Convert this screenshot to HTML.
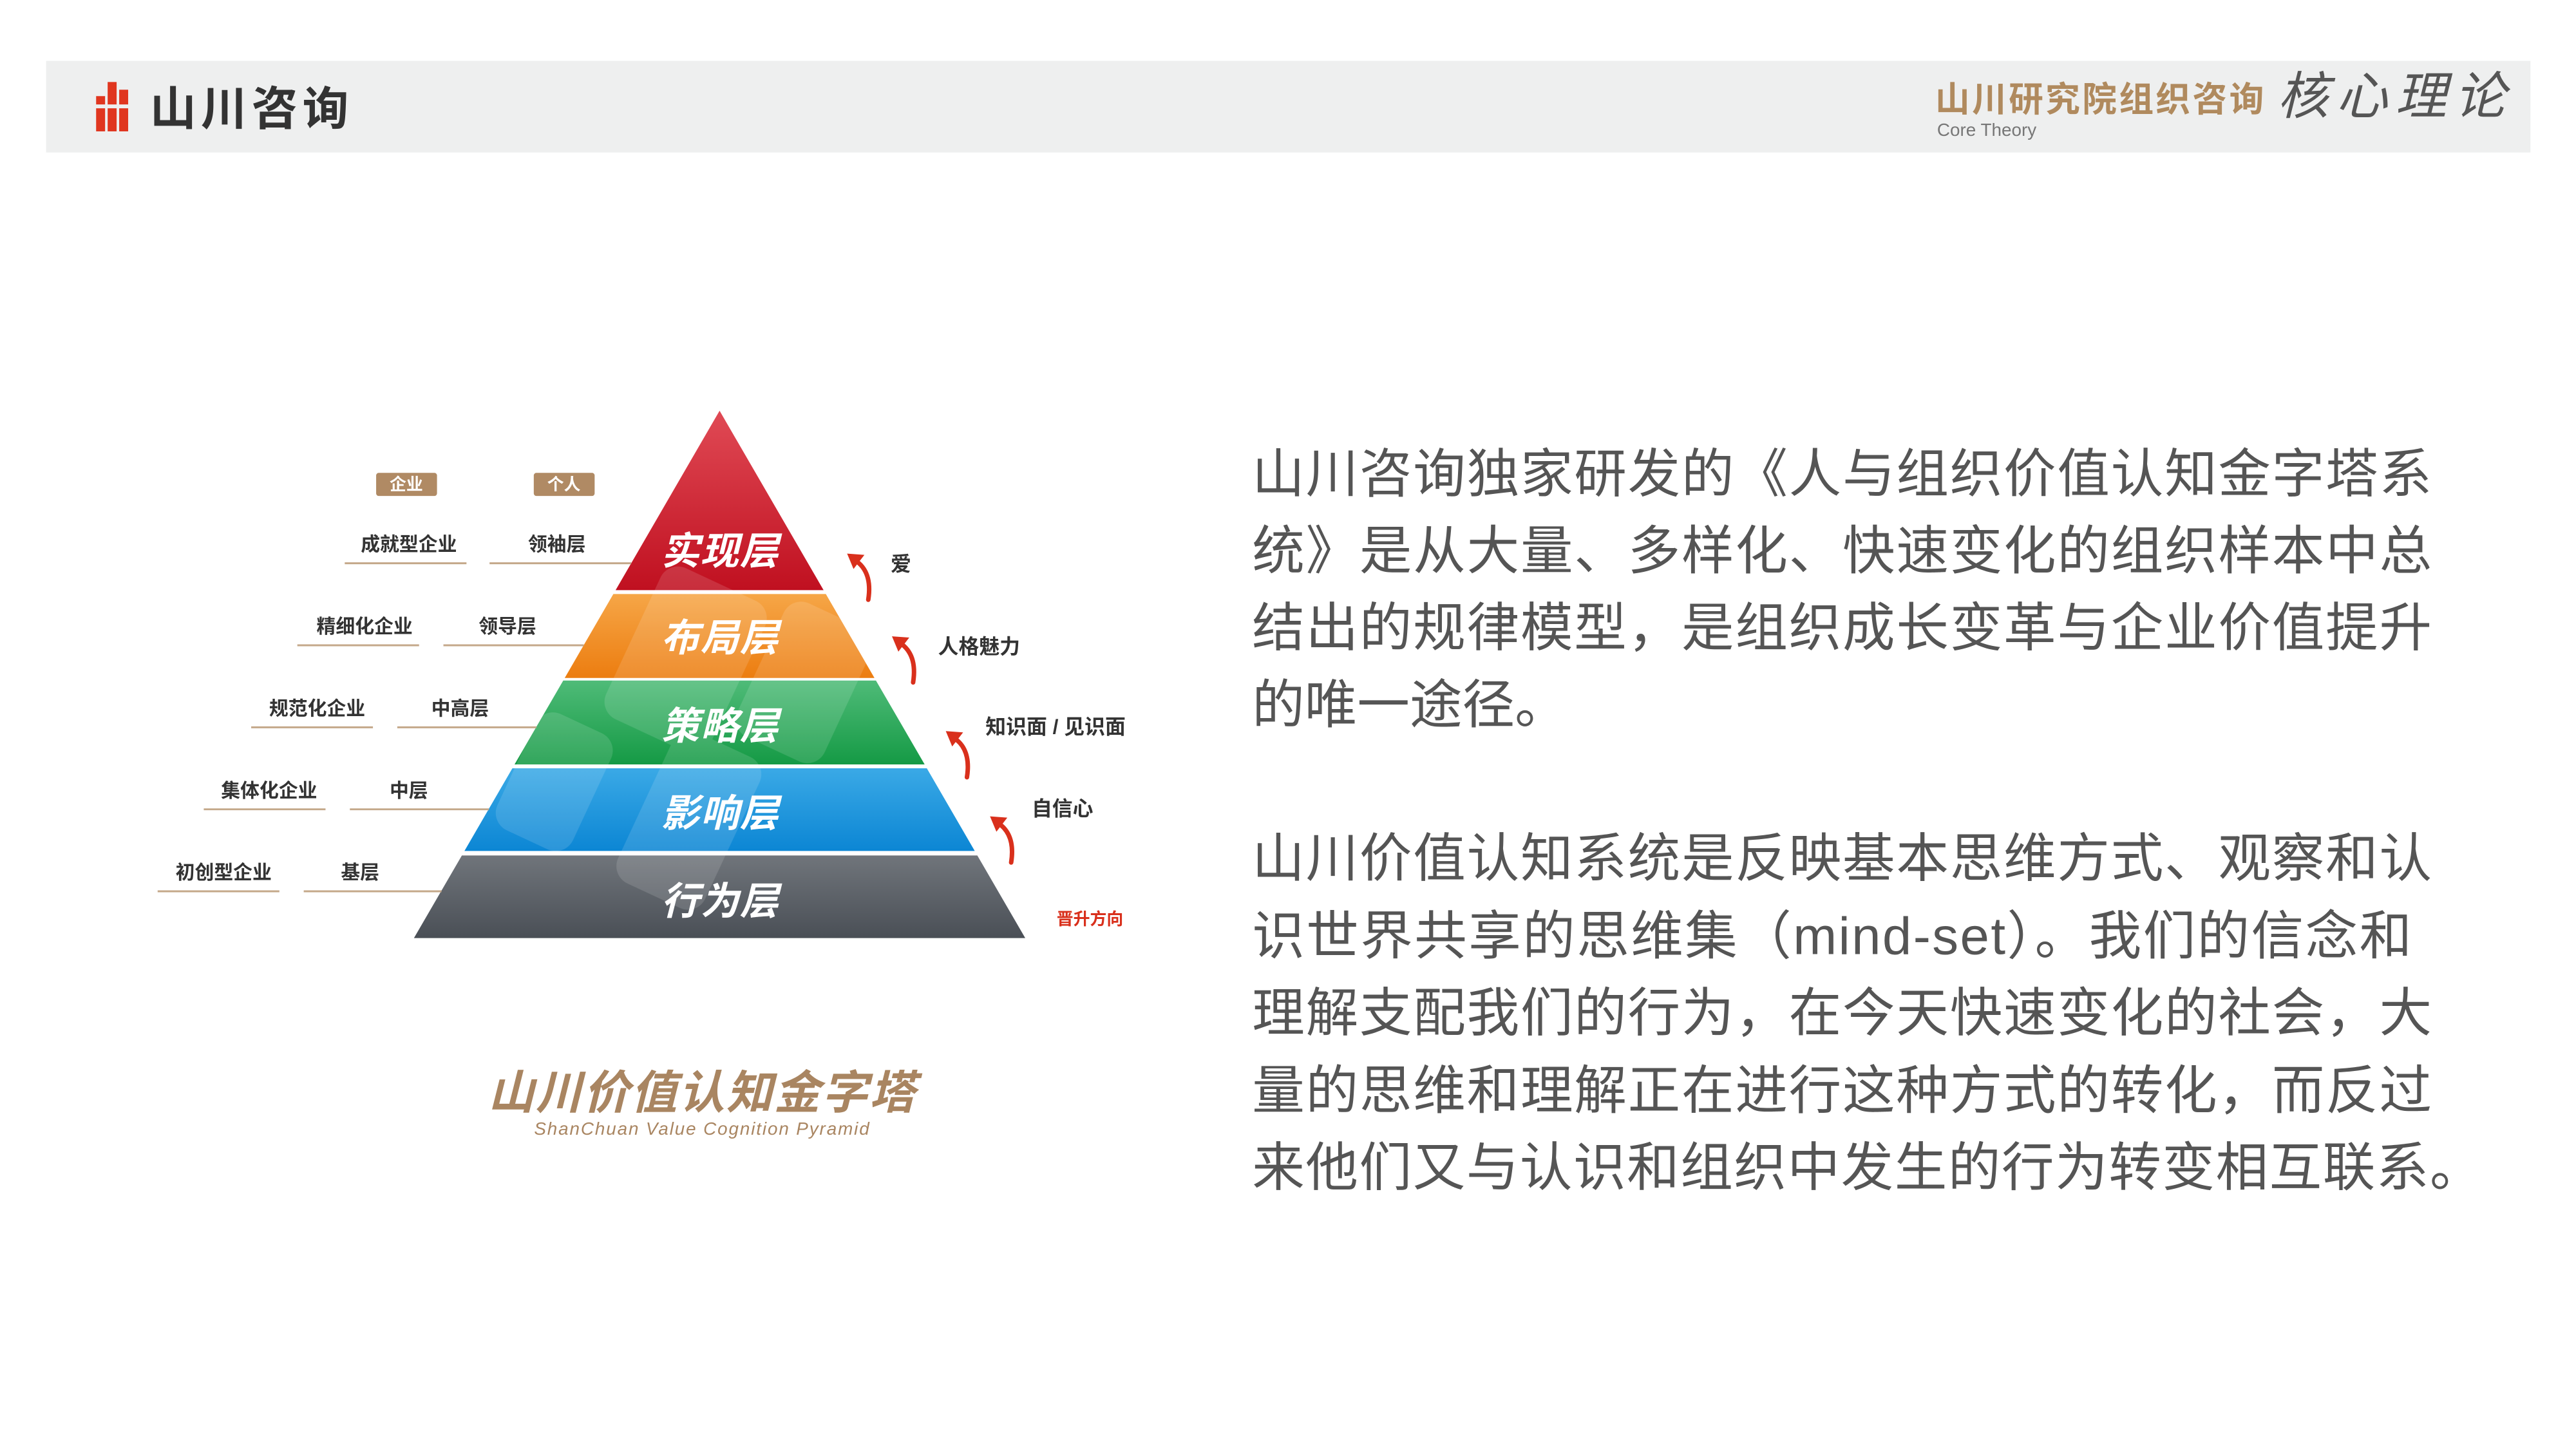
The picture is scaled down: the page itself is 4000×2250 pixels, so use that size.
<!DOCTYPE html>
<html><head><meta charset="utf-8"><style>
html,body{margin:0;padding:0;background:#fff;}
svg{display:block;}
text{font-family:"Liberation Sans","Noto Sans CJK SC",sans-serif;}
</style></head><body>
<svg width="4000" height="2250" viewBox="0 0 4000 2250" xmlns="http://www.w3.org/2000/svg">
<defs>
<linearGradient id="gr" x1="0" y1="0" x2="0" y2="1"><stop offset="0" stop-color="#e04a55"/><stop offset="1" stop-color="#c01020"/></linearGradient>
<linearGradient id="go" x1="0" y1="0" x2="0" y2="1"><stop offset="0" stop-color="#f6a647"/><stop offset="1" stop-color="#ec7d10"/></linearGradient>
<linearGradient id="gg" x1="0" y1="0" x2="0" y2="1"><stop offset="0" stop-color="#4fbb78"/><stop offset="1" stop-color="#159a45"/></linearGradient>
<linearGradient id="gb" x1="0" y1="0" x2="0" y2="1"><stop offset="0" stop-color="#3aa9e6"/><stop offset="1" stop-color="#0c86d4"/></linearGradient>
<linearGradient id="gk" x1="0" y1="0" x2="0" y2="1"><stop offset="0" stop-color="#70757b"/><stop offset="1" stop-color="#4a4f56"/></linearGradient>
<clipPath id="pc"><polygon points="1123,641 1600,1464 646,1464"/></clipPath>
</defs>
<g transform="scale(0.995)">
<!-- header -->
<rect x="72" y="95" width="3877" height="143" fill="#eeefef"/>
<g fill="#e0361f">
<rect x="150" y="150" width="14" height="55"/><rect x="168" y="128" width="14" height="77"/><rect x="186" y="140" width="14" height="65"/>
</g>
<rect x="148" y="163" width="56" height="6" fill="#eeefef"/>
<text x="234" y="195" font-size="72" font-weight="bold" fill="#333" textLength="310">山川咨询</text>
<text x="3020" y="174" font-size="54" font-weight="bold" fill="#b08a5e" textLength="513">山川研究院组织咨询</text>
<text x="3554" y="178" font-size="80" font-style="italic" fill="#555" textLength="356" font-family="'Noto Serif CJK SC',serif">核心理论</text>
<text x="3023" y="212" font-size="28" fill="#777" font-family="'Liberation Serif',serif">Core Theory</text>
<!-- pyramid -->
<polygon points="1123,641 1285.3,921 960.7,921" fill="url(#gr)"/>
<polygon points="957.2,927 1288.8,927 1364.7,1058 881.3,1058" fill="url(#go)"/>
<polygon points="879,1062 1367,1062 1443,1193 803,1193" fill="url(#gg)"/>
<polygon points="799.6,1199 1446.4,1199 1521.2,1328 724.8,1328" fill="url(#gb)"/>
<polygon points="720.8,1335 1525.2,1335 1600,1464 646,1464" fill="url(#gk)"/>
<g clip-path="url(#pc)" fill="#fff" opacity="0.13">
<rect x="980" y="900" width="180" height="260" rx="30" transform="rotate(25 1070 1030)"/>
<rect x="1180" y="950" width="150" height="230" rx="30" transform="rotate(25 1255 1065)"/>
<rect x="1000" y="1150" width="150" height="260" rx="30" transform="rotate(25 1075 1280)"/>
<rect x="800" y="1120" width="130" height="200" rx="30" transform="rotate(25 865 1220)"/>
</g>
<g font-size="60" font-weight="bold" font-style="italic" fill="#fff" text-anchor="middle">
<text x="1123" y="881" textLength="183">实现层</text>
<text x="1123" y="1016" textLength="183">布局层</text>
<text x="1123" y="1154" textLength="183">策略层</text>
<text x="1123" y="1290" textLength="183">影响层</text>
<text x="1123" y="1427" textLength="183">行为层</text>
</g>
<!-- badges -->
<rect x="587" y="738" width="95" height="36" rx="4" fill="#b08a64"/>
<rect x="833" y="738" width="95" height="36" rx="4" fill="#b08a64"/>
<g font-size="26" font-weight="bold" fill="#fff" text-anchor="middle">
<text x="634" y="765">企业</text><text x="880" y="765">个人</text>
</g>
<!-- left labels -->
<g stroke="#c4a88a" stroke-width="3">
<line x1="538" y1="879" x2="728" y2="879"/><line x1="764" y1="879" x2="985" y2="879"/>
<line x1="464" y1="1007" x2="654" y2="1007"/><line x1="692" y1="1007" x2="911" y2="1007"/>
<line x1="392" y1="1135" x2="582" y2="1135"/><line x1="620" y1="1135" x2="837" y2="1135"/>
<line x1="318" y1="1263" x2="508" y2="1263"/><line x1="546" y1="1263" x2="763" y2="1263"/>
<line x1="246" y1="1391" x2="436" y2="1391"/><line x1="474" y1="1391" x2="689" y2="1391"/>
</g>
<g font-size="30" font-weight="bold" fill="#333" text-anchor="middle">
<text x="638" y="860">成就型企业</text><text x="869" y="860">领袖层</text>
<text x="569" y="988">精细化企业</text><text x="792" y="988">领导层</text>
<text x="495" y="1116">规范化企业</text><text x="718" y="1116">中高层</text>
<text x="420" y="1244">集体化企业</text><text x="638" y="1244">中层</text>
<text x="349" y="1372">初创型企业</text><text x="562" y="1372">基层</text>
</g>
<!-- arrows -->
<g fill="none" stroke="#d9301c" stroke-width="7" stroke-linecap="round">
<path d="M1355,936 Q1362,892 1334,874"/>
<path d="M1425,1065 Q1432,1021 1404,1003"/>
<path d="M1509,1213 Q1516,1169 1488,1151"/>
<path d="M1578,1346 Q1585,1302 1557,1284"/>
</g>
<g fill="#d9301c">
<polygon points="1322,864 1349,866 1332,888"/>
<polygon points="1392,993 1419,995 1402,1017"/>
<polygon points="1476,1141 1503,1143 1486,1165"/>
<polygon points="1545,1274 1572,1276 1555,1298"/>
</g>
<g font-size="32" font-weight="bold" fill="#333">
<text x="1390" y="891">爱</text>
<text x="1464" y="1020">人格魅力</text>
<text x="1538" y="1145">知识面 / 见识面</text>
<text x="1610" y="1273">自信心</text>
</g>
<text x="1649" y="1443" font-size="26" font-weight="bold" fill="#d9301c">晋升方向</text>
<!-- title -->
<text x="1095" y="1730" font-size="72" font-weight="bold" font-style="italic" fill="#a98561" text-anchor="middle" textLength="667">山川价值认知金字塔</text>
<text x="1095" y="1771" font-size="28" font-style="italic" fill="#a98561" text-anchor="middle" textLength="523">ShanChuan Value Cognition Pyramid</text>
<!-- right paragraphs -->
<g font-size="82" fill="#555">
<text x="1954" y="768" textLength="1841">山川咨询独家研发的《人与组织价值认知金字塔系</text>
<text x="1954" y="888" textLength="1841">统》是从大量、多样化、快速变化的组织样本中总</text>
<text x="1954" y="1008" textLength="1841">结出的规律模型，是组织成长变革与企业价值提升</text>
<text x="1954" y="1128">的唯一途径。</text>
<text x="1954" y="1368" textLength="1841">山川价值认知系统是反映基本思维方式、观察和认</text>
<text x="1954" y="1489" textLength="1810">识世界共享的思维集（mind-set）。我们的信念和</text>
<text x="1954" y="1609" textLength="1841">理解支配我们的行为，在今天快速变化的社会，大</text>
<text x="1954" y="1730" textLength="1841">量的思维和理解正在进行这种方式的转化，而反过</text>
<text x="1954" y="1850" textLength="1920">来他们又与认识和组织中发生的行为转变相互联系。</text>
</g>
</g>
</svg>
</body></html>
